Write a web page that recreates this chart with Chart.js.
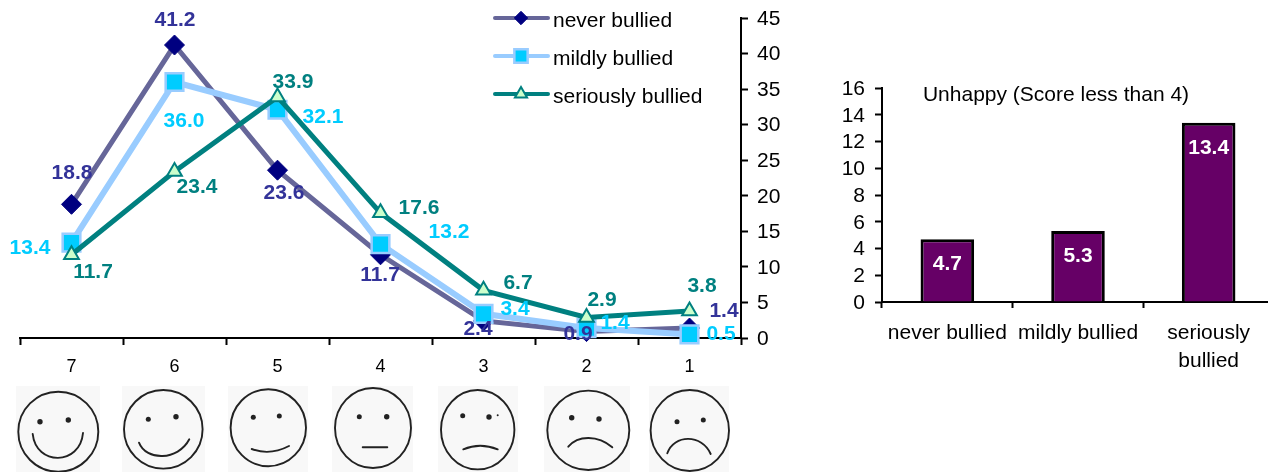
<!DOCTYPE html>
<html><head><meta charset="utf-8">
<style>
html,body{margin:0;padding:0;background:#fff;width:1268px;height:472px;overflow:hidden}
#c1{position:absolute;left:0;top:0}
#c2{position:absolute;left:800px;top:0}
#faces{position:absolute;left:0;top:0}
</style>
<script src="https://cdn.jsdelivr.net/npm/chart.js@4/dist/chart.umd.js"></script>
</head><body>
<svg id="faces" width="800" height="472" fill="none" stroke="#222" stroke-width="1.9" stroke-linecap="round">
<g fill="#f8f8f8" stroke="none">
<rect x="16" y="386" width="84" height="86"/><rect x="122" y="386" width="83" height="86"/>
<rect x="228" y="386" width="80" height="86"/><rect x="332" y="386" width="81" height="86"/>
<rect x="438" y="386" width="80" height="86"/><rect x="544" y="386" width="86" height="86"/>
<rect x="649" y="386" width="80" height="86"/></g>
<ellipse cx="58.3" cy="431.7" rx="40" ry="40"/><path d="M32.7 434C36 466 80 466 83 433"/>
<ellipse cx="163.3" cy="429.3" rx="39.3" ry="39.3"/><path d="M139 442.7C146 461 178 461 189.3 439.3"/>
<ellipse cx="268.3" cy="427.7" rx="37.7" ry="38.5"/><path d="M251.7 449Q270 455.9 289 446"/>
<ellipse cx="373" cy="428" rx="38" ry="40"/><path d="M362.7 447.3H387.3"/>
<ellipse cx="477.7" cy="429.7" rx="36.7" ry="39.7"/><path d="M463.3 449.3Q480 442.1 497.7 449.3"/>
<ellipse cx="588.3" cy="430.3" rx="41" ry="39.7"/><path d="M568.3 446.7C578 435 598 435 612.3 447.3"/>
<ellipse cx="689.8" cy="430.5" rx="39.2" ry="40.5"/><path d="M667.3 453.3C674 434 702 434 710.7 454"/>
<g fill="#222" stroke="none">
<circle cx="40" cy="421.7" r="2.7"/><circle cx="68.3" cy="420" r="2.7"/>
<circle cx="148.3" cy="419.3" r="2.5"/><circle cx="176" cy="416.7" r="2.7"/>
<circle cx="253.3" cy="417.3" r="2.5"/><circle cx="279.3" cy="416" r="2.5"/>
<circle cx="359.3" cy="416.7" r="2.5"/><circle cx="386.7" cy="416.7" r="2.7"/>
<circle cx="462.7" cy="415.7" r="2.5"/><circle cx="489" cy="417" r="2.7"/><circle cx="497.7" cy="415.3" r="1"/>
<circle cx="571.7" cy="417.7" r="2.7"/><circle cx="599" cy="419" r="2.7"/>
<circle cx="677" cy="421.7" r="2.5"/><circle cx="703.3" cy="420" r="2.5"/>
</g></svg>
<canvas id="c1" width="800" height="472"></canvas>
<canvas id="c2" width="480" height="472"></canvas>
<script>
const happinessScores = ['7','6','5','4','3','2','1'];
const neverBullied = [18.8,41.2,23.6,11.7,2.4,0.9,1.4];
const mildlyBullied = [13.4,36.0,32.1,13.2,3.4,1.4,0.5];
const seriouslyBullied = [11.7,23.4,33.9,17.6,6.7,2.9,3.8];
const unhappyGroups = [['never bullied'],['mildly bullied'],['seriously','bullied']];
const unhappyValues = [4.7,5.3,13.4];
const unhappyTitle = 'Unhappy (Score less than 4)';

const FONT = '"Liberation Sans", Arial, sans-serif';
Chart.defaults.font.family = FONT;
Chart.defaults.color = '#000';
Chart.defaults.animation = false;

// label offsets (px) from each point, per dataset
const neverOffsets = [[0.5,-31],[0.5,-25],[6.5,23],[-0.5,20],[-5.5,8],[-8.5,2.5],[34.5,-17]];
const mildOffsets = [[-41.5,5.3],[9.5,39],[45.5,7.2],[68.5,-12],[31.5,-5],[28.5,-5],[31.5,-0.4]];
const seriousOffsets = [[21.5,17.2],[22.5,15.4],[15.5,-15],[38.5,-5],[34.5,-7.4],[15.5,-17.4],[12.5,-25]];
const legendY = [18,56,94];
const legendRadius = [6.7,9.4,7];

const lineLabels = {
  id:'lineLabels',
  afterDatasetsDraw(chart){
    const {ctx} = chart;
    ctx.save();
    ctx.font = 'bold 21px '+FONT;
    ctx.textAlign='center'; ctx.textBaseline='middle';
    [0,1,2].forEach(i=>{
      const ds = chart.data.datasets[i];
      const meta = chart.getDatasetMeta(i);
      ctx.fillStyle = ds.labelColor;
      meta.data.forEach((pt,j)=>{
        ctx.fillText(ds.data[j].toFixed(1), pt.x+ds.labelOffsets[j][0], pt.y+ds.labelOffsets[j][1]);
      });
    });
    chart.data.datasets.forEach((ds,i)=>{
      const y=legendY[i];
      ctx.strokeStyle=ds.borderColor; ctx.lineWidth=4; ctx.lineCap='round';
      ctx.beginPath(); ctx.moveTo(495,y); ctx.lineTo(548,y); ctx.stroke();
      ctx.fillStyle=ds.pointBackgroundColor; ctx.strokeStyle=ds.pointBorderColor;
      ctx.lineWidth=ds.pointBorderWidth; ctx.lineCap='butt';
      Chart.helpers.drawPoint(ctx,{pointStyle:ds.pointStyle,radius:legendRadius[i],borderWidth:ds.pointBorderWidth,rotation:0},521,y);
      ctx.fillStyle='#000'; ctx.font='21px '+FONT; ctx.textAlign='left';
      ctx.fillText(ds.label,553,y+3);
    });
    ctx.restore();
  }
};

new Chart(document.getElementById('c1'),{
  type:'line',
  data:{labels:happinessScores,datasets:[
    {label:'never bullied',data:neverBullied,borderColor:'#666699',borderWidth:5,pointStyle:'rectRot',pointRadius:10,
     pointBackgroundColor:'#000080',pointBorderColor:'#000080',pointBorderWidth:1,order:2,tension:0,clip:false,
     labelColor:'#333399',labelOffsets:neverOffsets},
    {label:'mildly bullied',data:mildlyBullied,borderColor:'#99CCFF',borderWidth:6,pointStyle:'rect',pointRadius:12.5,
     pointBackgroundColor:'#00CCFF',pointBorderColor:'#99CCFF',pointBorderWidth:2.5,order:1,tension:0,clip:false,
     labelColor:'#00CCFF',labelOffsets:mildOffsets},
    {label:'seriously bullied',data:seriouslyBullied,borderColor:'#008080',borderWidth:5,pointStyle:'triangle',pointRadius:8.5,
     pointBackgroundColor:'#CCFFCC',pointBorderColor:'#008080',pointBorderWidth:2,order:0,tension:0,clip:false,
     labelColor:'#008080',labelOffsets:seriousOffsets}
  ]},
  options:{
    responsive:false,
    layout:{padding:{left:20,top:18,right:0,bottom:0}},
    plugins:{legend:{display:false},tooltip:{enabled:false}},
    scales:{
      x:{offset:true,
        afterFit(s){s.height=134;s.paddingLeft=0;s.paddingRight=0;},
        grid:{offset:true,drawOnChartArea:false,drawTicks:true,tickLength:7,tickColor:'#000',tickWidth:2},
        border:{color:'#000',width:2},
        ticks:{font:{size:18},padding:11,maxRotation:0,minRotation:0,autoSkip:false,color:'#000'}},
      y:{position:'right',min:0,max:45,
        afterFit(s){s.width=59;s.paddingTop=0;s.paddingBottom=0;},
        grid:{drawOnChartArea:false,tickLength:7,tickColor:'#000',tickWidth:2},
        border:{color:'#000',width:2},
        ticks:{stepSize:5,autoSkip:false,font:{size:21},padding:9,labelOffset:1,color:'#000'}}
    }
  },
  plugins:[lineLabels]
});

const barLabels = {
  id:'barLabels',
  afterDatasetsDraw(chart){
    const {ctx}=chart;
    ctx.save();
    ctx.font='bold 21px '+FONT; ctx.fillStyle='#fff';
    ctx.textAlign='center'; ctx.textBaseline='middle';
    chart.getDatasetMeta(0).data.forEach((b,i)=>{
      ctx.fillText(chart.data.datasets[0].data[i].toFixed(1),b.x,b.y+25);
    });
    ctx.fillStyle='#000'; ctx.font='21px '+FONT;
    ctx.fillText(unhappyTitle,256,95);
    ctx.restore();
  }
};

new Chart(document.getElementById('c2'),{
  type:'bar',
  data:{labels:unhappyGroups,datasets:[{data:unhappyValues,backgroundColor:'#660066',borderColor:'#000',borderWidth:3,
    barPercentage:0.41,categoryPercentage:1}]},
  options:{
    responsive:false,
    layout:{padding:{left:0,top:88,right:6,bottom:0}},
    plugins:{legend:{display:false},tooltip:{enabled:false}},
    scales:{
      x:{afterFit(s){s.height=170;s.paddingLeft=0;s.paddingRight=0;},
        grid:{offset:true,drawOnChartArea:false,tickLength:6,tickColor:'#000',tickWidth:2},
        border:{color:'#000',width:2},
        ticks:{font:{size:21,lineHeight:1.3},padding:12,maxRotation:0,minRotation:0,autoSkip:false,color:'#000'}},
      y:{min:0,max:16,
        afterFit(s){s.width=82;s.paddingTop=0;s.paddingBottom=0;},
        grid:{drawOnChartArea:false,tickLength:7,tickColor:'#000',tickWidth:2},
        border:{color:'#000',width:2},
        ticks:{stepSize:2,autoSkip:false,font:{size:21},padding:10,labelOffset:1,color:'#000'}}
    }
  },
  plugins:[barLabels]
});
</script>
</body></html>
